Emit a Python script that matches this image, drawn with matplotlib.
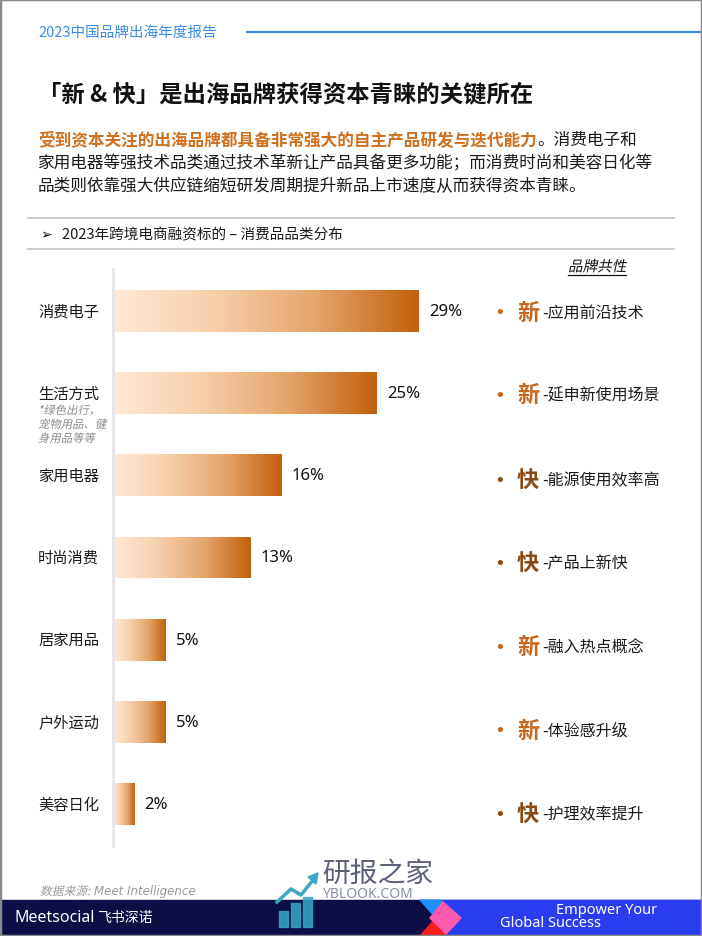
import numpy as np
import matplotlib
matplotlib.use('Agg')
from matplotlib import pyplot as plt
from matplotlib import transforms
from matplotlib.colors import LinearSegmentedColormap
from matplotlib.patches import Rectangle, Polygon, PathPatch
from matplotlib.textpath import TextPath
from matplotlib.font_manager import FontProperties

plt.rcParams['font.family'] = ['Noto Sans CJK SC', 'DejaVu Sans']

# data
categories = ['消费电子', '生活方式', '家用电器', '时尚消费', '居家用品', '户外运动', '美容日化']
shares = [29, 25, 16, 13, 5, 5, 2]
traits_head = ['新', '新', '快', '快', '新', '新', '快']
traits_text = ['-应用前沿技术', '-延申新使用场景', '-能源使用效率高', '-产品上新快',
               '-融入热点概念', '-体验感升级', '-护理效率提升']
note_lifestyle = ['*绿色出行，', '宠物用品、健', '身用品等等']

W, H = 702, 937
fig = plt.figure(figsize=(W / 100, H / 100), dpi=100)
cjk = FontProperties(family='Noto Sans CJK SC')


def fx(x):
    return x / W


def fy(y):
    return 1 - y / H


def T(x, y, s, **kw):
    return fig.text(fx(x), fy(y), s, **kw)


def hline(x0, x1, y, **kw):
    fig.add_artist(plt.Line2D([fx(x0), fx(x1)], [fy(y), fy(y)], transform=fig.transFigure, **kw))


def slanted(x, y, s, pt, color, prop=cjk):
    # CJK fonts have no italic face, so slant the glyph outlines by hand
    size = pt * 100 / 72
    path = TextPath((0, 0), s, size=size, prop=prop)
    tr = transforms.Affine2D().skew_deg(12, 0).translate(x, H - y - size * 0.36)
    patch = PathPatch(path, facecolor=color, edgecolor='none', lw=0,
                      transform=tr + transforms.IdentityTransform())
    fig.add_artist(patch)
    return path.get_extents().width


# header
T(38, 33, '2023中国品牌出海年度报告', fontsize=10.5, color='#3a8ee6', va='center')
hline(247, 702, 33, color='#3a8ee6', lw=1.6)

T(38, 94, '「新 & 快」是出海品牌获得资本青睐的关键所在', fontsize=16.8, fontweight='bold',
  color='#111111', va='center')

# intro paragraph
orange = '#d0701e'
t1 = T(38, 140, '受到资本关注的出海品牌都具备非常强大的自主产品研发与迭代能力', fontsize=12,
       fontweight='bold', color=orange, va='center')
fig.canvas.draw()
bb = t1.get_window_extent(fig.canvas.get_renderer())
fig.text(bb.x1 / fig.bbox.width, fy(140), '。消费电子和', fontsize=12, color='#1a1a1a', va='center')
T(38, 164, '家用电器等强技术品类通过技术革新让产品具备更多功能；而消费时尚和美容日化等',
  fontsize=12, color='#1a1a1a', va='center')
T(38, 187, '品类则依靠强大供应链缩短研发周期提升新品上市速度从而获得资本青睐。',
  fontsize=12, color='#1a1a1a', va='center')

# section header
hline(28, 674, 219, color='#c8c8c8', lw=1.3)
hline(28, 674, 250, color='#c8c8c8', lw=1.3)
T(40, 235, '➢', fontsize=10, color='#111111', va='center', family=['DejaVu Sans'])
T(62, 235, '2023年跨境电商融资标的 – 消费品品类分布', fontsize=10.5, color='#1a1a1a', va='center')

# bar chart
ax_left, ax_right, ax_top, ax_bot = 113, 480, 270, 847
ax = fig.add_axes([fx(ax_left), fy(ax_bot), fx(ax_right - ax_left), (ax_bot - ax_top) / H])
xmax = 29 * (ax_right - ax_left) / (419 - ax_left)
ypos = np.arange(len(categories))
bh = 0.51
cmap = LinearSegmentedColormap.from_list('peach', ['#fee9d8', '#f6cfaa', '#e5a46a', '#c3600c'])
grad = np.linspace(0, 1, 256).reshape(1, -1)
bars = ax.barh(ypos, shares, height=bh, color='none', edgecolor='none')
for bar, v, y in zip(bars, shares, ypos):
    im = ax.imshow(grad, extent=[0, v, y + bh / 2, y - bh / 2], aspect='auto', cmap=cmap,
                   interpolation='bicubic', zorder=2)
    im.set_clip_path(bar)
    ax.text(v + 0.95, y, f'{v}%', va='center', ha='left', fontsize=12, color='#111111',
            family=['Noto Sans', 'DejaVu Sans'])
ax.set_xlim(0, xmax)
ax.set_ylim(len(categories) - 1 + 0.512, -0.512)
for s in ['top', 'right', 'bottom']:
    ax.spines[s].set_visible(False)
ax.spines['left'].set_color('#e4e4ea')
ax.spines['left'].set_linewidth(2)
ax.set_xticks([])
ax.set_yticks([])
ax.patch.set_alpha(0)

tr = transforms.blended_transform_factory(fig.transFigure, ax.transData)
for c, y in zip(categories, ypos):
    ax.text(fx(38), y, c, transform=tr, fontsize=11, color='#1a1a1a', va='center', ha='left')
for i, line in enumerate(note_lifestyle):
    slanted(38, 411 + i * 14, line, 8.2, '#8a8a8a')

# right column
wd = slanted(568, 267, '品牌共性', 10.5, '#111111')
hline(568, 568 + wd + 2, 276, color='#111111', lw=0.9)
trait_y = [313, 396, 481, 564, 648, 731, 815]
head_color = {'新': '#c8661e', '快': '#8a4a16'}
for h, txt, y in zip(traits_head, traits_text, trait_y):
    col = head_color[h]
    T(500, y, '•', fontsize=13, color=col, va='center', ha='center', family=['DejaVu Sans'])
    T(517, y, h, fontsize=16, fontweight='bold', color=col, va='center', ha='left')
    T(542, y, txt, fontsize=11.5, color='#1a1a1a', va='center', ha='left')

# source
w0 = slanted(40, 892, '数据来源:', 8.5, '#9a9a9a')
T(40 + w0 + 5, 892, 'Meet Intelligence', fontsize=8.5, style='italic', color='#9a9a9a', va='center',
  family=['DejaVu Sans'])

# footer band
fig.add_artist(Rectangle((0, 0), 1, fy(901), transform=fig.transFigure, color='#0b0f45', zorder=0))
fig.add_artist(Rectangle((fx(440), 0), 1, fy(901), transform=fig.transFigure, color='#2a3cf0',
                         zorder=0.5))
fig.add_artist(Polygon([(fx(420), fy(901)), (fx(440), fy(901)), (fx(450), fy(912)), (fx(436), fy(919))],
                       transform=fig.transFigure, color='#1e8fff', zorder=1))
fig.add_artist(Polygon([(fx(436), fy(919)), (fx(452), fy(926)), (fx(444), fy(937)), (fx(420), fy(937))],
                       transform=fig.transFigure, color='#ff1a1a', zorder=1))
fig.add_artist(Polygon([(fx(443), fy(903)), (fx(461), fy(919)), (fx(446), fy(935)), (fx(430), fy(919))],
                       transform=fig.transFigure, color='#ff5ab0', zorder=1.1))
T(15, 918, 'Meetsocial', fontsize=11.5, color='white', va='center', family=['Noto Sans', 'DejaVu Sans'])
T(97, 918, '飞书深诺', fontsize=10, color='white', va='center')
T(607, 911, 'Empower Your', fontsize=10.5, color='white', va='center', ha='center', fontweight='bold',
  family=['Noto Sans', 'DejaVu Sans'])
T(550, 924, 'Global Success', fontsize=10.5, color='white', va='center', ha='center', fontweight='bold',
  family=['Noto Sans', 'DejaVu Sans'])

# watermark
for bx, bt in [(279, 912), (291, 904), (303, 898)]:
    fig.add_artist(Rectangle((fx(bx), fy(928)), 9 / W, (928 - bt) / H, transform=fig.transFigure,
                             color='#3aa6c8', alpha=0.85, zorder=2))
fig.add_artist(plt.Line2D([fx(277), fx(291), fx(301), fx(313)], [fy(903), fy(890), fy(896), fy(881)],
                          transform=fig.transFigure, color='#3aa6c8', lw=2.5, zorder=2))
fig.add_artist(Polygon([(fx(308), fy(878)), (fx(318), fy(874)), (fx(316), fy(885))],
                       transform=fig.transFigure, color='#3aa6c8', zorder=2))
T(322, 874, '研报之家', fontsize=20, color='#4a5068', va='center', alpha=0.9, zorder=3)
T(322, 895, 'YBLOOK.COM', fontsize=10, color='#7a8298', va='center', alpha=0.9, zorder=3,
  family=['Noto Sans', 'DejaVu Sans'])

# page frame
fig.add_artist(Rectangle((0, 0), 1, 1, transform=fig.transFigure, fill=False, edgecolor='#8a8a8a',
                         lw=2.5, zorder=5))

fig.savefig('out.png', dpi=100)
